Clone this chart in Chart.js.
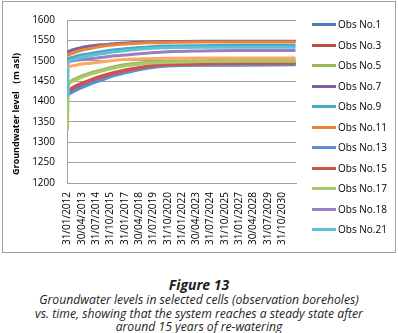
<!DOCTYPE html>
<html>
<head>
<meta charset="utf-8">
<script src="https://cdn.jsdelivr.net/npm/chart.js@4.4.0/dist/chart.umd.min.js"></script>
<style>
  body { margin: 0; background: #fff; width: 398px; height: 333px; overflow: hidden; position: relative; font-family: "Open Sans", sans-serif; }
  #marco { position: absolute; left: 2px; top: 1px; width: 392px; height: 250px; border: 1px solid #a0a0a0; }
  #leyenda { position: absolute; left: 312px; top: 0; }
  .fila { position: absolute; left: 0; height: 12px; line-height: 12px; font-size: 10px; color: #000; white-space: nowrap; }
  .fila span.linea { position: absolute; left: 0; top: 5px; width: 24px; height: 3px; }
  .fila span.texto { position: absolute; left: 26px; top: 0; }
  .pie { position: absolute; left: 0; width: 398px; text-align: center; color: #231f20; font-style: italic; white-space: nowrap; }
  #figura { top: 276px; font-size: 14px; line-height: 18px; font-weight: bold; }
  #texto { top: 293px; font-size: 12.2px; line-height: 13.6px; }
</style>
</head>
<body>
<div id="marco"><canvas id="grafico" width="392" height="250"></canvas></div>
<div id="leyenda"></div>
<div class="pie" id="figura">Figure 13</div>
<div class="pie" id="texto">Groundwater levels in selected cells (observation boreholes)<br>vs. time, showing that the system reaches a steady state after<br>around 15 years of re-watering</div>
<script>
// meses desde 31/01/2012
const meses = [0, 1, 6, 12, 24, 35, 50, 69, 85, 105, 140, 180, 239];

const obs1  = [1419, 1420, 1427, 1434, 1445, 1454, 1466, 1477, 1484, 1489, 1490, 1491, 1491];
const obs3  = [1425, 1427, 1435, 1442, 1453, 1462, 1472, 1481, 1487, 1491, 1493, 1494, 1494];
const obs5  = [1443, 1445, 1453, 1460, 1470, 1477, 1486, 1493, 1496, 1498, 1500, 1501, 1501];
const obs7  = [1520, 1522, 1527, 1531, 1536, 1539, 1542, 1545, 1546, 1547, 1548, 1548, 1548];
const obs9  = [1503, 1505, 1509, 1513, 1518, 1522, 1527, 1531, 1534, 1536, 1537, 1538, 1538];
const obs11 = [1512, 1514, 1519, 1524, 1530, 1535, 1539, 1542, 1544, 1545, 1546, 1546, 1546];
const obs13 = [1416, 1417, 1424, 1431, 1443, 1452, 1464, 1475, 1482, 1487, 1489, 1489, 1490];
const obs15 = [1423, 1425, 1433, 1440, 1451, 1460, 1470, 1479, 1486, 1490, 1492, 1493, 1493];
const obs17 = [1330, 1440, 1450, 1457, 1467, 1474, 1483, 1490, 1494, 1496, 1498, 1499, 1499];
const obs18 = [1497, 1498, 1500, 1502, 1505, 1508, 1512, 1516, 1519, 1522, 1524, 1525, 1525];
const obs21 = [1410, 1498, 1503, 1507, 1513, 1517, 1522, 1527, 1530, 1532, 1533, 1533, 1533];
// serie que no cabe en la leyenda
const obs23 = [1484, 1485, 1488, 1491, 1494, 1497, 1501, 1504, 1505, 1506, 1507, 1507, 1507];

const nombres = ['Obs No.1', 'Obs No.3', 'Obs No.5', 'Obs No.7', 'Obs No.9', 'Obs No.11',
                 'Obs No.13', 'Obs No.15', 'Obs No.17', 'Obs No.18', 'Obs No.21', 'Obs No.23'];
const series = [obs1, obs3, obs5, obs7, obs9, obs11, obs13, obs15, obs17, obs18, obs21, obs23];
const colores = ['#4a7ebb', '#be4b48', '#98b954', '#7d60a0', '#46aac5', '#ea8438',
                 '#5b8fd0', '#cf5350', '#a8c96a', '#9880c0', '#5fbfd8', '#f9a964'];
const enLeyenda = 11;

const ticksMeses = [0, 15, 30, 45, 60, 75, 90, 105, 120, 135, 150, 165, 180, 195, 210, 225];
const etiquetasX = ['31/01/2012', '30/04/2013', '31/07/2014', '31/10/2015', '31/01/2017', '30/04/2018',
                    '31/07/2019', '31/10/2020', '31/01/2022', '30/04/2023', '31/07/2024', '31/10/2025',
                    '31/01/2027', '30/04/2028', '31/07/2029', '31/10/2030'];

const gris = '#a0a0a0';
const fuente = { family: '"Open Sans", sans-serif', size: 10 };

const datasets = series.map((valores, i) => ({
    label: nombres[i],
    data: valores.map((v, j) => ({ x: meses[j], y: v })),
    borderColor: colores[i],
    backgroundColor: colores[i],
    borderWidth: 3,
    pointRadius: 0,
    fill: false,
    cubicInterpolationMode: 'monotone',
    order: series.length - i
}));

// título del eje Y
const tituloY = {
    id: 'tituloY',
    afterDraw(chart) {
        const { ctx } = chart;
        ctx.save();
        ctx.translate(13, 112);
        ctx.rotate(-Math.PI / 2);
        ctx.font = 'bold 9px "Open Sans", sans-serif';
        ctx.fillStyle = '#000';
        ctx.textAlign = 'center';
        ctx.textBaseline = 'middle';
        ctx.fillText('Groundwater level （m asl)', 0, 0);
        ctx.restore();
    }
};

const grafico = new Chart(document.getElementById('grafico'), {
    type: 'line',
    data: { datasets },
    options: {
        responsive: false,
        animation: false,
        devicePixelRatio: 1,
        layout: { padding: { top: 10, right: 99, left: 0, bottom: 0 } },
        plugins: { legend: { display: false }, tooltip: { enabled: false } },
        scales: {
            x: {
                type: 'linear',
                min: -0.5,
                max: 239.5,
                afterBuildTicks: (s) => { s.ticks = ticksMeses.map(v => ({ value: v })); },
                afterFit: (s) => { s.height = 69; },
                ticks: {
                    autoSkip: false,
                    minRotation: 90,
                    maxRotation: 90,
                    padding: 9,
                    color: '#000',
                    font: fuente,
                    callback: (v) => etiquetasX[ticksMeses.indexOf(v)] || ''
                },
                grid: { display: false, drawTicks: false },
                border: { display: true, color: gris }
            },
            y: {
                min: 1200,
                max: 1600,
                afterFit: (s) => { s.width = 64; },
                ticks: { stepSize: 50, padding: 12, color: '#000', font: fuente, callback: (v) => String(v) },
                grid: { color: gris, drawTicks: false },
                border: { display: true, color: gris }
            }
        }
    },
    plugins: [tituloY]
});

// leyenda HTML a partir de los datasets
const leyenda = document.getElementById('leyenda');
grafico.data.datasets.slice(0, enLeyenda).forEach((ds, i) => {
    const fila = document.createElement('div');
    fila.className = 'fila';
    fila.style.top = (24 - 6 + i * 20.53) + 'px';
    fila.innerHTML = `<span class="linea" style="background:${ds.borderColor}"></span><span class="texto">${ds.label}</span>`;
    leyenda.appendChild(fila);
});
</script>
</body>
</html>
